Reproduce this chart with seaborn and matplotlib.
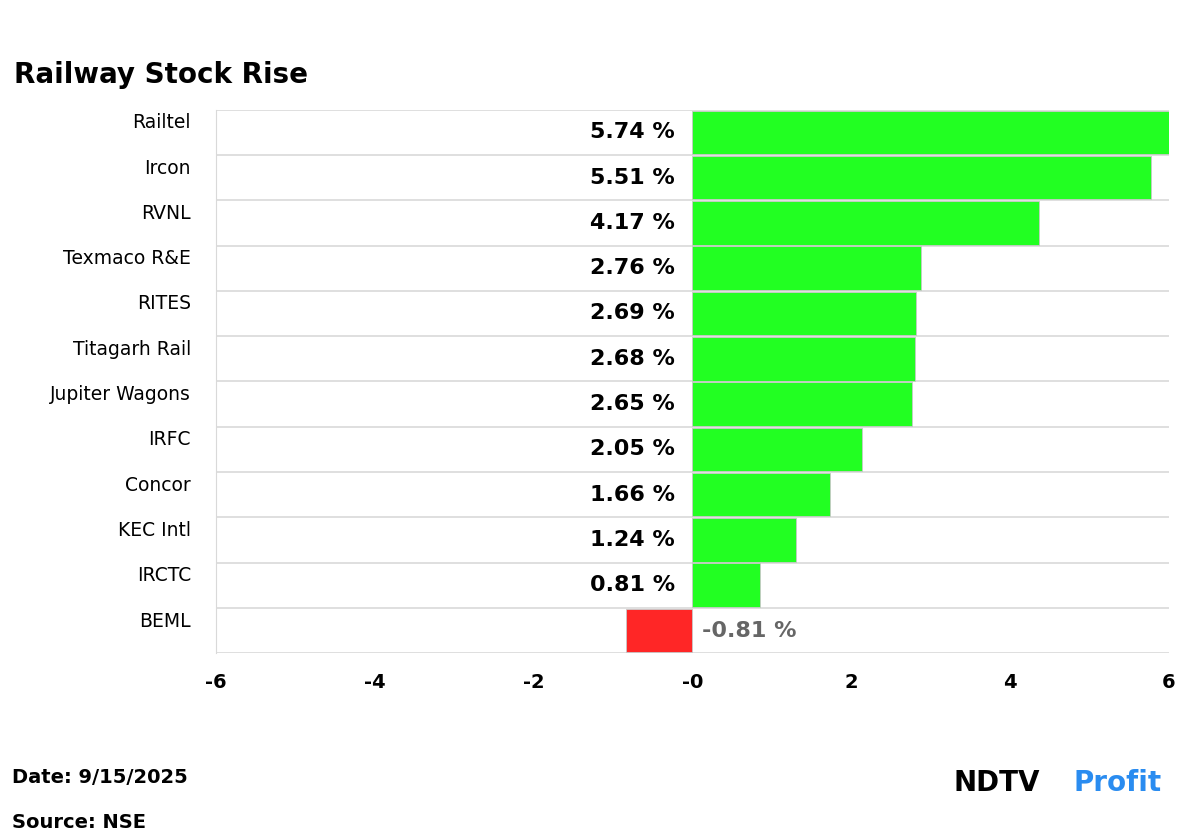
import matplotlib.pyplot as plt
import pandas as pd
import seaborn as sns

stocks = ["Railtel", "Ircon", "RVNL", "Texmaco R&E", "RITES", "Titagarh Rail",
          "Jupiter Wagons", "IRFC", "Concor", "KEC Intl", "IRCTC", "BEML"]
# bar lengths as drawn in the source chart
bar_values = [6.0, 5.77, 4.36, 2.88, 2.81, 2.80, 2.77, 2.14, 1.73, 1.30, 0.85, -0.84]
# labels as printed
label_values = [5.74, 5.51, 4.17, 2.76, 2.69, 2.68, 2.65, 2.05, 1.66, 1.24, 0.81, -0.81]
x_ticks = [-6, -4, -2, 0, 2, 4, 6]
x_ticklabels = ["-6", "-4", "-2", "-0", "2", "4", "6"]

df = pd.DataFrame({"stock": stocks, "value": bar_values})
colors = ["#22ff22" if v >= 0 else "#ff2626" for v in bar_values]

fig = plt.figure(figsize=(12, 8.31), dpi=100)
ax = fig.add_axes([0.18, 0.214, 0.794, 0.654])
sns.barplot(data=df, x="value", y="stock", hue="stock", palette=colors,
            legend=False, width=0.96, ax=ax, saturation=1, edgecolor="#c8c8c8",
            linewidth=0.6)

ax.set_xlim(-6, 6)
ax.set_ylim(len(stocks) - 0.5, -0.5)
ax.set_xticks(x_ticks)
ax.set_xticklabels(x_ticklabels, fontsize=14, fontweight="bold")
ax.set_yticks(range(len(stocks)))
ax.set_yticklabels(stocks, fontsize=13.5)
for lbl in ax.get_yticklabels():
    lbl.set_verticalalignment("bottom")
ax.tick_params(axis="y", length=0, pad=18)
ax.tick_params(axis="x", length=0, pad=14)
ax.set_xlabel("")
ax.set_ylabel("")

for i in range(len(stocks) + 1):
    ax.axhline(i - 0.5, color="#d9d9d9", lw=1.2, zorder=0)
for side in ["top", "right", "bottom"]:
    ax.spines[side].set_visible(False)
ax.spines["left"].set_color("#d9d9d9")

for i, v in enumerate(label_values):
    if v >= 0:
        ax.text(-0.22, i, f"{v:.2f} %", ha="right", va="center",
                fontsize=16, fontweight="bold", color="black")
    else:
        ax.text(0.12, i, f"{v:.2f} %", ha="left", va="center",
                fontsize=16, fontweight="bold", color="#666666")

fig.text(0.012, 0.9, "Railway Stock Rise", fontsize=20, fontweight="bold")
fig.text(0.01, 0.058, "Date: 9/15/2025", fontsize=14, fontweight="bold")
fig.text(0.01, 0.004, "Source: NSE", fontsize=14, fontweight="bold")
fig.text(0.795, 0.048, "NDTV", fontsize=20, fontweight="bold", color="black")
fig.text(0.895, 0.048, "Profit", fontsize=20, fontweight="bold", color="#2a8cf0")

fig.savefig("out.png", dpi=100, facecolor="white")
